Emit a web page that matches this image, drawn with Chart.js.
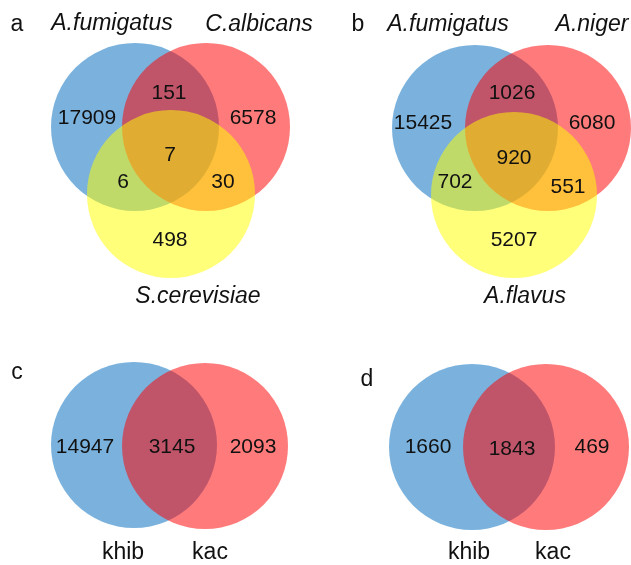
<!DOCTYPE html>
<html>
<head>
<meta charset="utf-8">
<script src="https://cdn.jsdelivr.net/npm/chart.js@4"></script>
<style>
  html, body { margin: 0; padding: 0; background: #fff; }
  #wrap { width: 631px; height: 565px; }
</style>
</head>
<body>
<div id="wrap"><canvas id="venn"></canvas></div>
<script>
// set names and region counts for each panel
// order of counts: only 1, only 2, only 3, 1&2, 1&3, 2&3, all three
const setsA = ["A.fumigatus", "C.albicans", "S.cerevisiae"];
const countsA = [17909, 6578, 498, 151, 6, 30, 7];

const setsB = ["A.fumigatus", "A.niger", "A.flavus"];
const countsB = [15425, 6080, 5207, 1026, 702, 551, 920];

// two-set panels: only 1, only 2, both
const setsC = ["khib", "kac"];
const countsC = [14947, 2093, 3145];

const setsD = ["khib", "kac"];
const countsD = [1660, 469, 1843];

const panelLetters = ["a", "b", "c", "d"];

// circle fills (drawn in this order, half transparent)
const fills = ["rgba(0,108,190,0.52)", "rgba(255,0,0,0.52)", "rgba(255,255,0,0.52)"];

// page layout in pixels
const panels = [
  {
    sets: setsA, counts: countsA, letter: panelLetters[0], r: 84,
    circles: [[135, 127], [206, 127], [171, 194]],
    letterPos: [17, 25],
    namePos: [[112, 24], [259, 25], [198, 297]],
    countPos: [[87, 118], [253, 118], [170, 240], [169, 93], [123, 182], [223, 182], [170, 155]]
  },
  {
    sets: setsB, counts: countsB, letter: panelLetters[1], r: 83,
    circles: [[475, 128], [548, 128], [514, 195]],
    letterPos: [358, 25],
    namePos: [[448, 25], [592, 25], [525, 297]],
    countPos: [[423, 123], [592, 123], [514, 240], [512, 93], [455, 182], [568, 187], [514, 158]]
  },
  {
    sets: setsC, counts: countsC, letter: panelLetters[2], r: 83,
    circles: [[134, 445], [205, 446]],
    letterPos: [17, 373],
    namePos: [[123, 553], [210, 553]],
    countPos: [[85, 447], [253, 447], [172, 447]]
  },
  {
    sets: setsD, counts: countsD, letter: panelLetters[3], r: 83,
    circles: [[472, 447], [546, 447]],
    letterPos: [367, 380],
    namePos: [[469, 553], [553, 553]],
    countPos: [[428, 447], [592, 447], [512, 449]]
  }
];

// one bubble dataset per circle so the colours blend like overlapping discs;
// Chart.js paints lower `order` on top, so each later circle gets a lower order
const datasets = [];
panels.forEach(p => {
  p.circles.forEach((c, i) => {
    datasets.push({
      label: p.letter + " " + p.sets[i],
      data: [{ x: c[0], y: c[1], r: p.r }],
      backgroundColor: fills[i],
      hoverBackgroundColor: fills[i],
      borderWidth: 0,
      hoverBorderWidth: 0,
      clip: false,
      order: -datasets.length
    });
  });
});

const textFont = "'Liberation Sans', Arial, sans-serif";

const vennLabels = {
  id: "vennLabels",
  afterDatasetsDraw(chart) {
    const { ctx, scales } = chart;
    ctx.save();
    ctx.fillStyle = "#111";
    ctx.textAlign = "center";
    ctx.textBaseline = "middle";
    panels.forEach(p => {
      ctx.font = "23px " + textFont;
      ctx.fillText(p.letter, scales.x.getPixelForValue(p.letterPos[0]), scales.y.getPixelForValue(p.letterPos[1]));
      // species names in italics, modification names upright
      ctx.font = (p.sets.length === 3 ? "italic " : "") + "23px " + textFont;
      p.sets.forEach((name, i) => {
        ctx.fillText(name, scales.x.getPixelForValue(p.namePos[i][0]), scales.y.getPixelForValue(p.namePos[i][1]));
      });
      ctx.font = "21px " + textFont;
      p.counts.forEach((n, i) => {
        ctx.fillText(String(n), scales.x.getPixelForValue(p.countPos[i][0]), scales.y.getPixelForValue(p.countPos[i][1]));
      });
    });
    ctx.restore();
  }
};

new Chart(document.getElementById("venn"), {
  type: "bubble",
  data: { datasets },
  options: {
    responsive: true,
    maintainAspectRatio: false,
    animation: false,
    events: [],
    layout: { padding: 0, autoPadding: false },
    plugins: {
      legend: { display: false },
      tooltip: { enabled: false }
    },
    scales: {
      x: { type: "linear", min: 0, max: 631, display: false },
      y: { type: "linear", min: 0, max: 565, reverse: true, display: false }
    }
  },
  plugins: [vennLabels]
});
</script>
</body>
</html>
